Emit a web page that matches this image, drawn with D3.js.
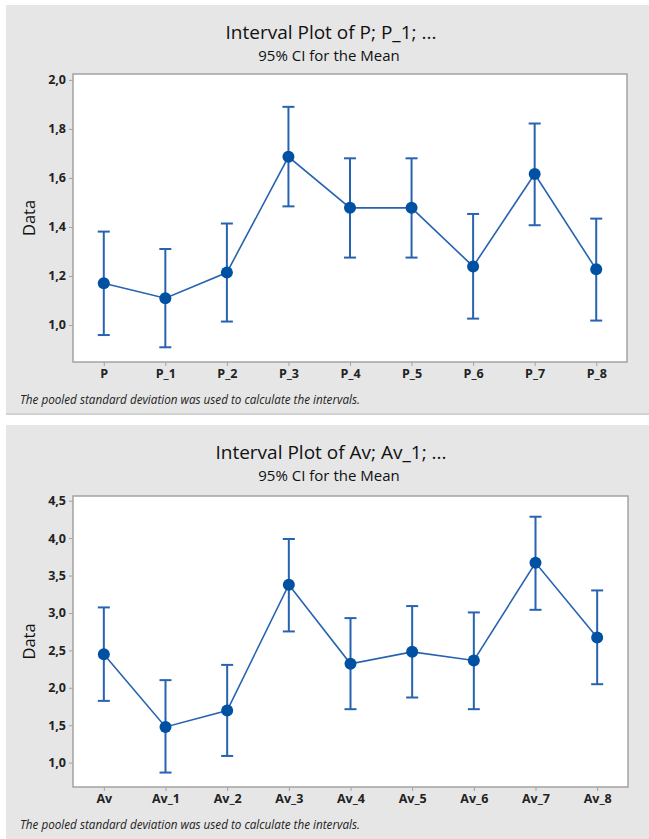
<!DOCTYPE html>
<html>
<head>
<meta charset="utf-8">
<script src="https://cdn.jsdelivr.net/npm/d3@7/dist/d3.min.js"></script>
<style>
  html, body { margin: 0; padding: 0; background: #ffffff; }
  svg { display: block; }
  text { font-family: "Open Sans", "Noto Sans", sans-serif; }
</style>
</head>
<body>
<svg id="chart" width="649" height="839"></svg>
<script>
// Interval plot of P columns: means with 95% confidence intervals
const pCategories = ["P", "P_1", "P_2", "P_3", "P_4", "P_5", "P_6", "P_7", "P_8"];
const pMeans = [1.170, 1.109, 1.214, 1.686, 1.478, 1.478, 1.239, 1.616, 1.227];
const pLower = [0.959, 0.909, 1.014, 1.484, 1.275, 1.275, 1.026, 1.407, 1.018];
const pUpper = [1.381, 1.310, 1.414, 1.890, 1.680, 1.680, 1.453, 1.822, 1.434];
const pTicks = [1.0, 1.2, 1.4, 1.6, 1.8, 2.0];

// Interval plot of Av columns
const avCategories = ["Av", "Av_1", "Av_2", "Av_3", "Av_4", "Av_5", "Av_6", "Av_7", "Av_8"];
const avMeans = [2.449, 1.477, 1.696, 3.377, 2.320, 2.480, 2.365, 3.671, 2.673];
const avLower = [1.825, 0.867, 1.089, 2.753, 1.714, 1.870, 1.714, 3.042, 2.048];
const avUpper = [3.074, 2.102, 2.306, 3.988, 2.931, 3.092, 3.007, 4.286, 3.301];
const avTicks = [1.0, 1.5, 2.0, 2.5, 3.0, 3.5, 4.0, 4.5];

const footnote = "The pooled standard deviation was used to calculate the intervals.";
const subtitle = "95% CI for the Mean";

const svg = d3.select("#chart");
const commaLocale = d3.formatLocale({ decimal: ",", thousands: ".", grouping: [3], currency: ["", ""] });
const tickFmt = commaLocale.format(".1f");

const LINE = "#2763b0";
const DOT = "#0151a3";
const FRAME = "#a3a3a3";

function drawPanel(cfg) {
  const g = svg.append("g").attr("transform", `translate(0,${cfg.top})`);

  // panel background with a faint shadow line underneath
  g.append("rect").attr("x", 6).attr("y", 0).attr("width", 643).attr("height", cfg.height)
    .attr("fill", "#e6e6e6");
  g.append("rect").attr("x", 6).attr("y", cfg.height - 1).attr("width", 643).attr("height", 2)
    .attr("fill", "#d2d2d2");

  // titles
  g.append("text").attr("x", 331).attr("y", 34).attr("text-anchor", "middle")
    .attr("font-size", 19).attr("fill", "#111").text(cfg.title);
  g.append("text").attr("x", 329).attr("y", 56).attr("text-anchor", "middle")
    .attr("font-size", 15).attr("fill", "#111").text(subtitle);

  const x = d3.scalePoint().domain(cfg.categories).range([cfg.x0, cfg.x1]).padding(0.5);
  const y = d3.scaleLinear().domain(cfg.domain).range([cfg.y1, cfg.y0]);

  // plot area
  g.append("rect").attr("x", cfg.x0).attr("y", cfg.y0)
    .attr("width", cfg.x1 - cfg.x0).attr("height", cfg.y1 - cfg.y0)
    .attr("fill", "#ffffff").attr("stroke", FRAME).attr("stroke-width", 1.5);

  // axes
  const yAxis = g.append("g").attr("transform", `translate(${cfg.x0},0)`)
    .call(d3.axisLeft(y).tickValues(cfg.ticks).tickFormat(tickFmt).tickSize(4).tickPadding(3));
  const xAxis = g.append("g").attr("transform", `translate(0,${cfg.y1})`)
    .call(d3.axisBottom(x).tickSize(4).tickPadding(3));
  [yAxis, xAxis].forEach(ax => {
    ax.select(".domain").remove();
    ax.selectAll(".tick line").attr("stroke", FRAME);
    ax.selectAll(".tick text").attr("fill", "#222").attr("font-size", 12.5)
      .attr("font-weight", "bold").attr("font-family", "'Open Sans', sans-serif");
  });

  // y axis title
  g.append("text")
    .attr("transform", `translate(35,${(cfg.y0 + cfg.y1) / 2}) rotate(-90)`)
    .attr("text-anchor", "middle").attr("font-size", 16.5).attr("fill", "#111")
    .text("Data");

  const rows = cfg.categories.map((c, i) => ({ c, m: cfg.means[i], lo: cfg.lower[i], hi: cfg.upper[i] }));

  // error bars
  const eb = g.append("g").attr("stroke", LINE).attr("stroke-width", 2).attr("fill", "none");
  rows.forEach(d => {
    const cx = x(d.c);
    eb.append("line").attr("x1", cx).attr("x2", cx).attr("y1", y(d.lo)).attr("y2", y(d.hi));
    eb.append("line").attr("x1", cx - 6).attr("x2", cx + 6).attr("y1", y(d.lo)).attr("y2", y(d.lo));
    eb.append("line").attr("x1", cx - 6).attr("x2", cx + 6).attr("y1", y(d.hi)).attr("y2", y(d.hi));
  });

  // connecting line through the means
  g.append("path").datum(rows)
    .attr("fill", "none").attr("stroke", LINE).attr("stroke-width", 1.6)
    .attr("d", d3.line().x(d => x(d.c)).y(d => y(d.m)));

  // mean symbols
  g.selectAll("circle.mean").data(rows).join("circle").attr("class", "mean")
    .attr("cx", d => x(d.c)).attr("cy", d => y(d.m)).attr("r", 6).attr("fill", DOT);

  // footnote
  g.append("text").attr("x", 20).attr("y", cfg.noteY)
    .attr("font-size", 11.7).attr("font-style", "italic").attr("fill", "#222").text(footnote);
}

drawPanel({
  top: 5, height: 409, title: "Interval Plot of P; P_1; ...",
  categories: pCategories, means: pMeans, lower: pLower, upper: pUpper, ticks: pTicks,
  domain: [0.849, 2.024], x0: 73, x1: 627, y0: 69, y1: 357, noteY: 399
});

drawPanel({
  top: 425, height: 416, title: "Interval Plot of Av; Av_1; ...",
  categories: avCategories, means: avMeans, lower: avLower, upper: avUpper, ticks: avTicks,
  domain: [0.674, 4.563], x0: 73, x1: 628, y0: 71, y1: 362, noteY: 404
});
</script>
</body>
</html>
